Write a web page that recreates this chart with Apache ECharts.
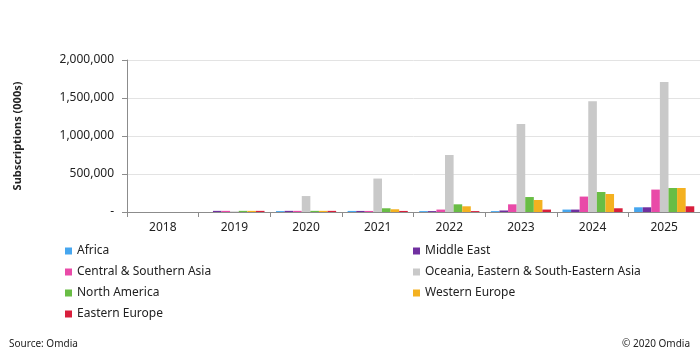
<!DOCTYPE html>
<html>
<head>
<meta charset="utf-8">
<script src="https://cdn.jsdelivr.net/npm/echarts@6/dist/echarts.min.js"></script>
<style>
  html, body { margin: 0; padding: 0; background: #fff; }
  #main { width: 700px; height: 351px; }
</style>
</head>
<body>
<div id="main"></div>
<script>
// data (thousands of subscriptions)
const years = ['2018', '2019', '2020', '2021', '2022', '2023', '2024', '2025']
const africa = [0, 0, 12000, 14000, 12000, 12000, 32000, 62000]
const middleEast = [0, 15000, 15000, 14000, 12000, 20000, 32000, 62000]
const centralSouthAsia = [0, 15000, 15000, 14000, 32000, 101000, 203000, 295000]
const oceaniaEastAsia = [0, 8000, 210000, 440000, 750000, 1158000, 1457000, 1710000]
const northAmerica = [0, 15000, 15000, 49000, 101000, 197000, 263000, 316000]
const westernEurope = [0, 15000, 15000, 36000, 75000, 158000, 237000, 316000]
const easternEurope = [0, 15000, 15000, 14000, 12000, 32000, 49000, 75000]
const yTicks = [0, 500000, 1000000, 1500000, 2000000]

const font = 'Noto Sans'
const chart = echarts.init(document.getElementById('main'))

const mk = (name, data, color) => ({
  name: name,
  type: 'bar',
  data: data,
  barGap: 0,
  barCategoryGap: '16%',
  itemStyle: { color: color },
  emphasis: { disabled: true }
})

const legendBase = {
  orient: 'vertical', top: 245, padding: 0, itemWidth: 7, itemHeight: 7, itemGap: 9, icon: 'rect',
  textStyle: { fontSize: 12, color: '#222', fontFamily: font }
}

const option = {
  animation: false,
  textStyle: { fontFamily: font },
  grid: { left: 127, right: 0, top: 60, bottom: 139 },
  title: [
    { text: 'Source: Omdia', left: 4, top: 334, textStyle: { fontSize: 10, fontWeight: 'normal', color: '#222', fontFamily: font } },
    { text: '© 2020 Omdia', right: 5, top: 334, textStyle: { fontSize: 10, fontWeight: 'normal', color: '#222', fontFamily: font } }
  ],
  legend: [
    Object.assign({}, legendBase, {
      left: 65,
      data: ['Africa', 'Central & Southern Asia', 'North America', 'Eastern Europe']
    }),
    Object.assign({}, legendBase, {
      left: 413,
      data: ['Middle East', 'Oceania, Eastern & South-Eastern Asia', 'Western Europe']
    })
  ],
  xAxis: {
    type: 'category',
    data: years,
    axisLine: { lineStyle: { color: '#8c8c8c' } },
    axisTick: { show: true, length: 5, lineStyle: { color: '#8c8c8c' } },
    axisLabel: { fontSize: 12, color: '#222', margin: 10 }
  },
  yAxis: {
    type: 'value',
    min: yTicks[0],
    max: yTicks[yTicks.length - 1],
    interval: 500000,
    name: 'Subscriptions (000s)',
    nameLocation: 'middle',
    nameGap: 104,
    nameTextStyle: { fontSize: 11, fontWeight: 'bold', color: '#222' },
    axisLine: { show: true, lineStyle: { color: '#8c8c8c' } },
    axisTick: { show: true, length: 5, lineStyle: { color: '#8c8c8c' } },
    splitLine: { lineStyle: { color: '#e3e3e3' } },
    axisLabel: {
      fontSize: 12, color: '#222', margin: 13,
      formatter: function (v) { return v === 0 ? '-' : v.toLocaleString('en-US') }
    }
  },
  series: [
    mk('Africa', africa, '#46a6ef'),
    mk('Middle East', middleEast, '#7030a0'),
    mk('Central & Southern Asia', centralSouthAsia, '#e94aa8'),
    mk('Oceania, Eastern & South-Eastern Asia', oceaniaEastAsia, '#c9c9c9'),
    mk('North America', northAmerica, '#69bd45'),
    mk('Western Europe', westernEurope, '#f4b120'),
    mk('Eastern Europe', easternEurope, '#d81f3c')
  ]
}

chart.setOption(option)
</script>
</body>
</html>
